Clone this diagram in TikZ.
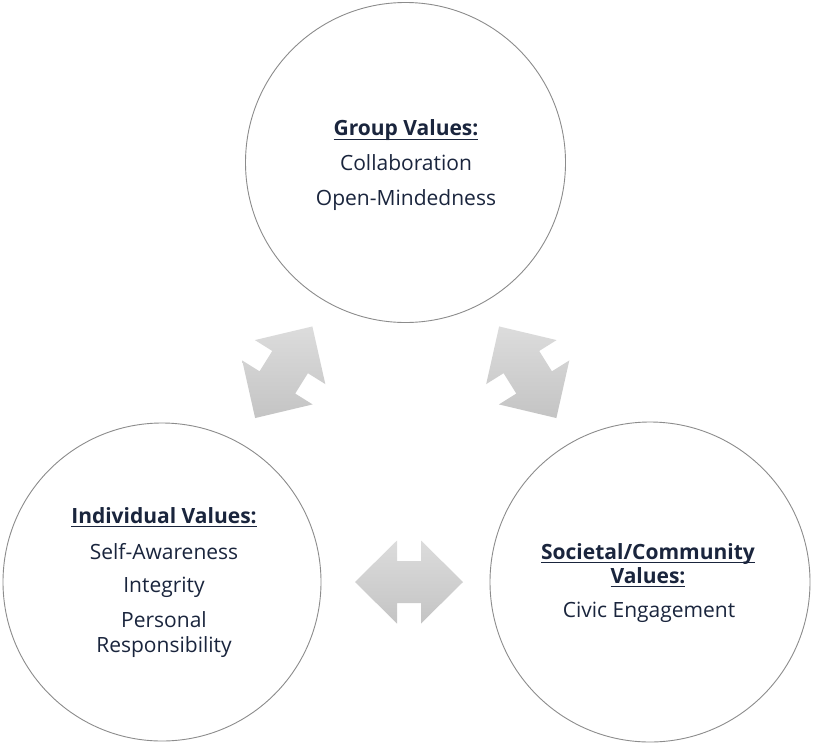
\documentclass[tikz,border=0pt]{standalone}
\usepackage{fontspec}
\setmainfont{Open Sans}
\usetikzlibrary{calc}
\definecolor{txt}{HTML}{1A253D}
\definecolor{ring}{HTML}{8C8C8C}
\definecolor{arrtop}{HTML}{DCDCDC}
\definecolor{arrbot}{HTML}{C4C4C4}
\newcommand\myul[1]{\setbox0\hbox{#1}\rlap{\rule[-4.4pt]{\wd0}{1.4pt}}\box0}
\tikzset{
  valcircle/.style={circle, draw=ring, line width=0.9pt, inner sep=0pt, minimum size=#1},
  valtext/.style={anchor=base, inner sep=0pt, text=txt, font=\fontsize{21}{25}\selectfont},
  valhead/.style={valtext, font=\fontsize{21}{25}\selectfont\bfseries},
  blockarrow/.style={top color=arrtop, bottom color=arrbot, draw=none}
}
\newcommand\dblarrow{(-54,0) -- (-12,41.5) -- (-12,21) -- (12,21) -- (12,41.5) -- (54,0) -- (12,-41.5) -- (12,-21) -- (-12,-21) -- (-12,-41.5) -- cycle}
\begin{document}
\begin{tikzpicture}[x=1pt,y=-1pt]
\useasboundingbox (0,0) rectangle (813,747);
\fill[white] (0,0) rectangle (813,747);
% circles
\node[valcircle=320pt] (grp) at (405.5,162.5) {};
\node[valcircle=318pt] (ind) at (162,582) {};
\node[valcircle=320pt] (soc) at (650,582) {};
% arrows
\begin{scope}[shift={($(grp.center)!0.5!(ind.center)$)}, rotate=58]
  \path[blockarrow] \dblarrow;
\end{scope}
\begin{scope}[shift={($(grp.center)!0.5!(soc.center)$)}, rotate=-58]
  \path[blockarrow] \dblarrow;
\end{scope}
\begin{scope}[shift={(409,582)}]
  \path[blockarrow] \dblarrow;
\end{scope}
% top texts
\node[valhead] (g1) at (406,135.7) {\myul{Group Values:}};
\node[valtext] (g2) at (406,170.7) {Collaboration};
\node[valtext] (g3) at (406,205) {Open-Mindedness};
% left texts
\node[valhead] (i1) at (164,523) {\myul{Individual Values:}};
\node[valtext] (i2) at (164,559) {Self-Awareness};
\node[valtext] (i3) at (164,592) {Integrity};
\node[valtext] (i4) at (164,627) {Personal};
\node[valtext] (i5) at (164,652) {Responsibility};
% right texts
\node[valhead] (s1) at (648,559) {\myul{Societal/Community}};
\node[valhead] (s2) at (648,583) {\myul{Values:}};
\node[valtext] (s3) at (649,617) {Civic Engagement};
\end{tikzpicture}
\end{document}
